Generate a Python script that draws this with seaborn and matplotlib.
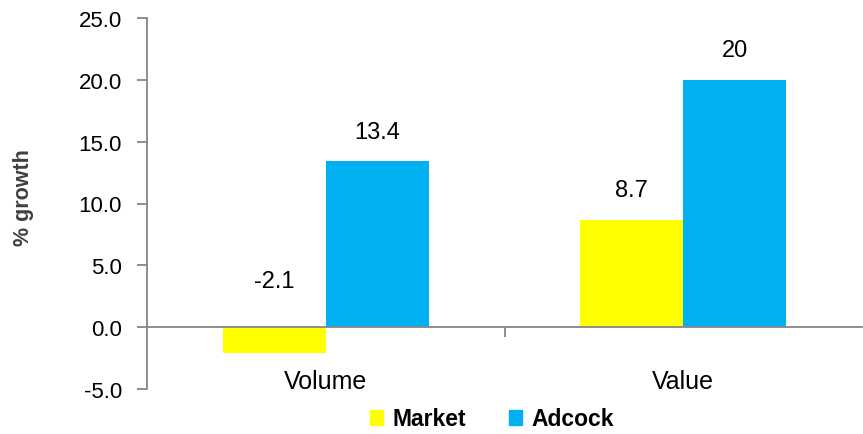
import matplotlib
matplotlib.use("Agg")
import matplotlib.pyplot as plt
import seaborn as sns
import pandas as pd
from matplotlib.ticker import FixedLocator, FormatStrFormatter

# Growth figures
categories = ["Volume", "Value"]
series = ["Market", "Adcock"]
market = [-2.1, 8.7]
adcock = [13.4, 20]
value_labels_market = ["-2.1", "8.7"]
value_labels_adcock = ["13.4", "20"]
colors = ["#FFFF00", "#00B0F0"]

df = pd.DataFrame({
    "category": categories * 2,
    "series": [series[0]] * 2 + [series[1]] * 2,
    "growth": market + adcock,
    "label": value_labels_market + value_labels_adcock,
})

sns.set_theme(style="white")
plt.rcParams["font.family"] = ["Liberation Sans", "DejaVu Sans"]

fig = plt.figure(figsize=(8.63, 4.35), dpi=100)
ax = fig.add_axes([147 / 863, 1 - 390 / 435, 715 / 863, 371 / 435])

sns.barplot(data=df, x="category", y="growth", hue="series", order=categories,
            hue_order=series, palette=colors, width=0.576, gap=0,
            saturation=1, linewidth=0, edgecolor="none", ax=ax, legend=False)

ax.set_xlim(-0.5, 1.5)
ax.set_ylim(-5, 25)
ax.yaxis.set_major_locator(FixedLocator([-5, 0, 5, 10, 15, 20, 25]))
ax.yaxis.set_major_formatter(FormatStrFormatter("%.1f"))

axis_gray = "#868686"
for side in ["top", "right"]:
    ax.spines[side].set_visible(False)
ax.spines["left"].set_color(axis_gray)
ax.spines["left"].set_linewidth(1.3)
ax.spines["bottom"].set_position(("data", 0))
ax.spines["bottom"].set_color(axis_gray)
ax.spines["bottom"].set_linewidth(1.3)

ax.tick_params(axis="y", which="major", direction="out", length=7, width=1.3,
               color=axis_gray, labelsize=16, labelcolor="black", pad=11, left=True)
ax.set_xticks([0, 1])
ax.set_xticklabels(categories)
ax.tick_params(axis="x", which="major", length=0, pad=30, labelsize=18,
               labelcolor="black")
ax.xaxis.set_minor_locator(FixedLocator([0.5]))
ax.tick_params(axis="x", which="minor", direction="out", length=7, width=1.3,
               color=axis_gray, bottom=True)
ax.set_xlabel("")
ax.set_ylabel("")
fig.text(24 / 863, 1 - 198 / 435, "% growth", rotation=90, ha="center",
         va="center", fontsize=15.5, fontweight="bold", color="#404040")

# Value labels above each bar
for container, labels in zip(ax.containers, [value_labels_market, value_labels_adcock]):
    for bar, text in zip(container, labels):
        h = bar.get_height()
        y = h + 2.4 if h >= 0 else 3.7
        ax.text(bar.get_x() + bar.get_width() / 2, y, text, ha="center",
                va="center", fontsize=17, color="black")

handles = [plt.Rectangle((0, 0), 1, 1, color=c) for c in colors]
fig.legend(handles, series, loc="center", bbox_to_anchor=(492 / 863, 1 - 420 / 435),
           ncol=2, frameon=False, handlelength=0.55, handleheight=0.65,
           handletextpad=0.4, columnspacing=1.9, labelcolor="black",
           prop={"size": 16.5, "weight": "bold"})

fig.savefig("out.png", dpi=100)
